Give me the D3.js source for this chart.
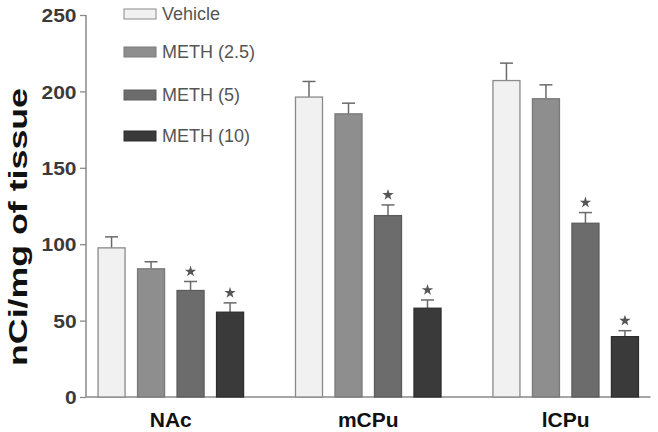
<!DOCTYPE html>
<html><head><meta charset="utf-8">
<script src="https://cdn.jsdelivr.net/npm/d3@7"></script>
<style>body{margin:0;background:#fff}svg{display:block}</style>
</head><body>
<svg id="c" width="658" height="432"></svg>
<script>
const categories = ["NAc", "mCPu", "lCPu"];
const seriesNames = ["Vehicle", "METH (2.5)", "METH (5)", "METH (10)"];
const vehicle = [97.6, 196.3, 207.1];
const meth25 = [83.9, 185.3, 195.2];
const meth5 = [69.7, 118.7, 113.7];
const meth10 = [55.5, 58.1, 39.5];
const vehicleErr = [7.2, 10.2, 11.4];
const meth25Err = [4.6, 7.0, 9.1];
const meth5Err = [5.9, 7.0, 7.0];
const meth10Err = [6.1, 5.4, 3.9];
const significant = [[false,false,true,true],[false,false,true,true],[false,false,true,true]];
const yTicks = [0, 50, 100, 150, 200, 250];
const yTitle = "nCi/mg of tissue";

const values = [vehicle, meth25, meth5, meth10];
const errs = [vehicleErr, meth25Err, meth5Err, meth10Err];
const fills = ["#f1f1f1", "#8e8e8e", "#6c6c6c", "#3a3a3a"];
const strokes = ["#8a8a8a", "#7a7a7a", "#5c5c5c", "#2e2e2e"];

const svg = d3.select("#c");
const y = d3.scaleLinear().domain([0, 250]).range([397, 15]);
const x0 = d3.scaleBand().domain(categories).range([86, 650.5]).paddingInner(0.263).paddingOuter(0.061);
const x1 = d3.scaleBand().domain(seriesNames).range([0, x0.bandwidth()]).paddingInner(0.316).paddingOuter(0);

// Y axis
const yAxis = d3.axisLeft(y).tickValues(yTicks).tickSize(6).tickPadding(3);
const gy = svg.append("g").attr("transform", "translate(86,0)").call(yAxis);
gy.select(".domain").attr("stroke", "#8a8a8a").attr("stroke-width", 1.5).attr("d", `M0,${y(250)}V${y(0)}`);
gy.selectAll(".tick line").attr("stroke", "#8a8a8a").attr("stroke-width", 1.3);
gy.selectAll(".tick text").attr("font-family", "Liberation Sans, Arial, sans-serif")
  .attr("font-weight", "bold").attr("font-size", 20).attr("fill", "#3a3a3a")
  .attr("transform", "scale(1.05,0.92)").attr("dy", "0.36em");

// baseline
svg.append("line").attr("x1", 86).attr("x2", x0.range()[1]).attr("y1", y(0)).attr("y2", y(0))
  .attr("stroke", "#8a8a8a").attr("stroke-width", 1.5);

// bars
const groups = svg.append("g").selectAll("g").data(categories).join("g")
  .attr("transform", d => `translate(${x0(d)},0)`);
seriesNames.forEach((s, si) => {
  groups.each(function(cat, ci) {
    const g = d3.select(this);
    const v = values[si][ci], e = errs[si][ci];
    const bx = x1(s), bw = x1.bandwidth(), cx = bx + bw / 2;
    g.append("line").attr("x1", cx).attr("x2", cx).attr("y1", y(v)).attr("y2", y(v + e))
      .attr("stroke", "#6a6a6a").attr("stroke-width", 1.5);
    g.append("line").attr("x1", cx - 6.5).attr("x2", cx + 6.5).attr("y1", y(v + e)).attr("y2", y(v + e))
      .attr("stroke", "#6a6a6a").attr("stroke-width", 1.5);
    g.append("rect").attr("x", bx).attr("width", bw).attr("y", y(v)).attr("height", y(0) - y(v))
      .attr("fill", fills[si]).attr("stroke", strokes[si]).attr("stroke-width", 1.3);
    if (significant[ci][si]) {
      g.append("path").attr("d", d3.symbol(d3.symbolStar, 40)())
        .attr("transform", `translate(${cx},${y(v + e) - 10})`).attr("fill", "#555");
    }
  });
});

// category labels
svg.append("g").selectAll("text").data(categories).join("text")
  .attr("x", d => x0(d) + x0.bandwidth() / 2).attr("y", 427)
  .attr("text-anchor", "middle").attr("font-family", "Liberation Sans, Arial, sans-serif")
  .attr("font-weight", "bold").attr("font-size", 21).attr("fill", "#111").text(d => d);

// y title
svg.append("text").attr("transform", "translate(27,227) rotate(-90)")
  .attr("text-anchor", "middle").attr("font-family", "Liberation Sans, Arial, sans-serif")
  .attr("font-weight", "bold").attr("font-size", 25).attr("fill", "#111")
  .attr("textLength", 278).attr("lengthAdjust", "spacingAndGlyphs").text(yTitle);

// legend
const legY = [14, 52, 95, 136];
const leg = svg.append("g").selectAll("g").data(seriesNames).join("g")
  .attr("transform", (d, i) => `translate(124,${legY[i]})`);
leg.append("rect").attr("x", 0).attr("y", -5).attr("width", 32).attr("height", 10)
  .attr("fill", (d, i) => fills[i]).attr("stroke", (d, i) => strokes[i]).attr("stroke-width", 1);
leg.append("text").attr("x", 38).attr("y", 6).attr("font-family", "Liberation Sans, Arial, sans-serif")
  .attr("font-size", 18).attr("fill", "#555").text(d => d);
</script>
</body></html>
